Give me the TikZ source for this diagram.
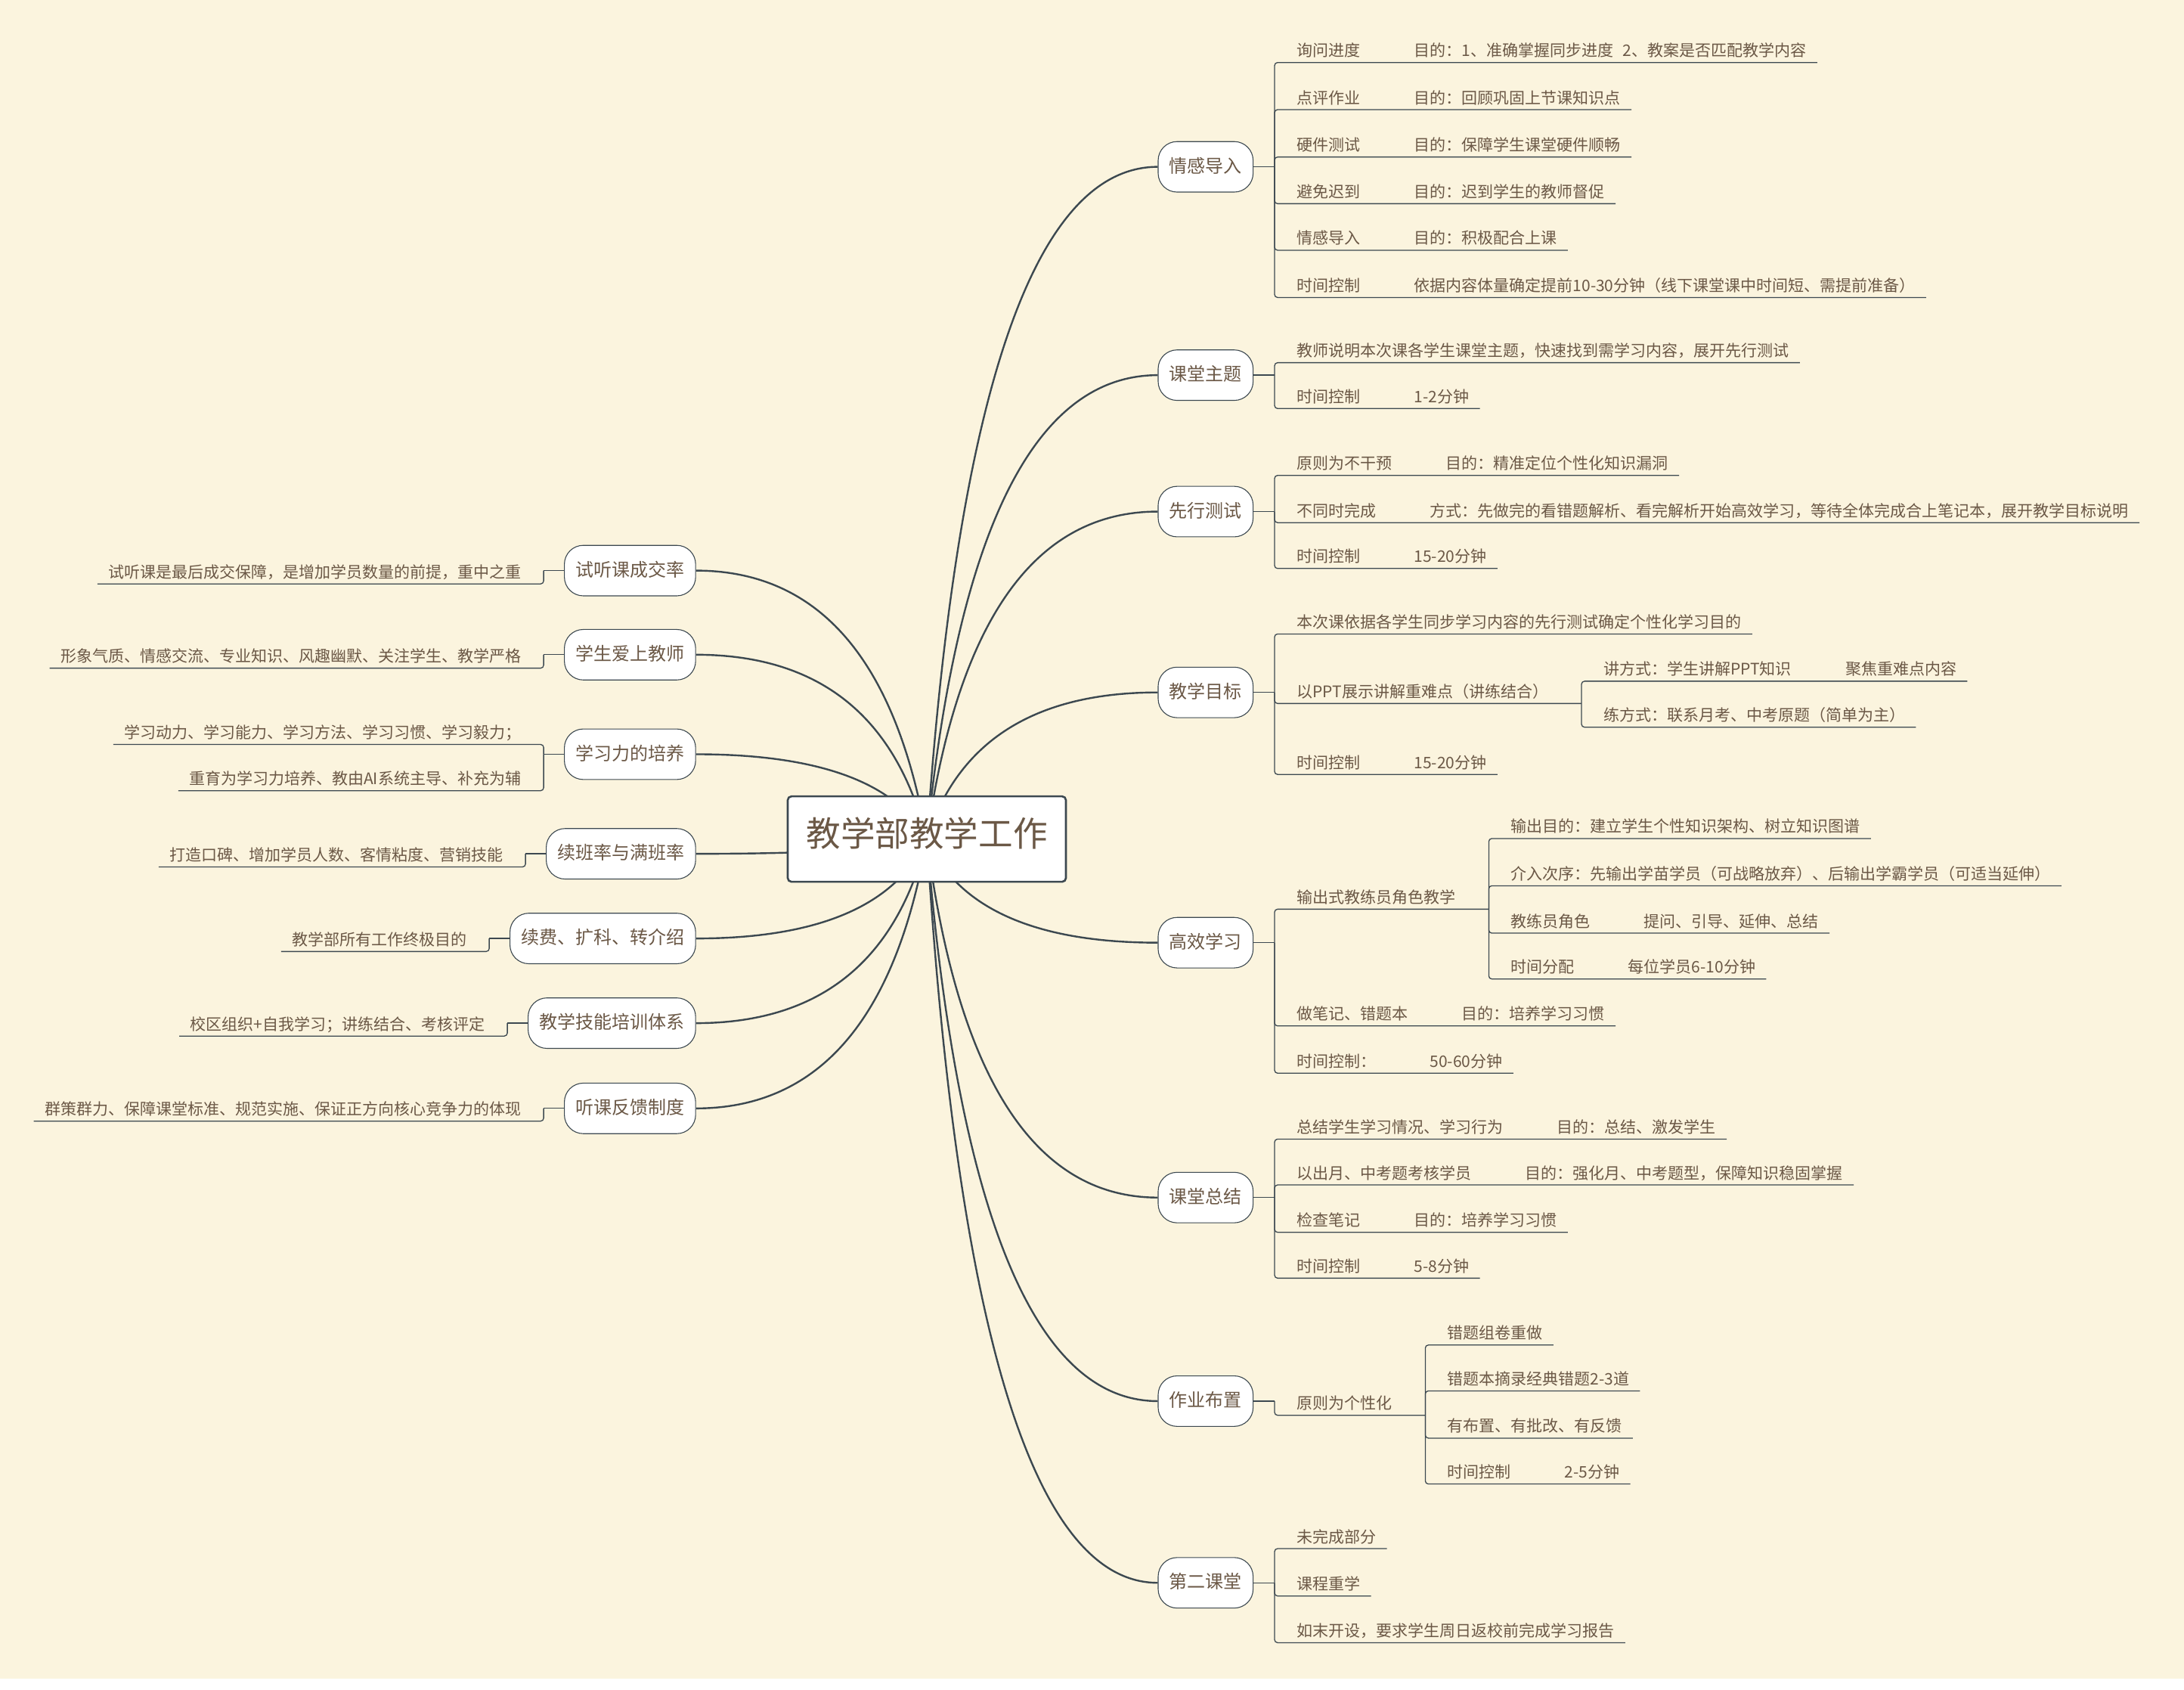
\documentclass[tikz,border=0pt]{standalone}
\usepackage{fontspec}
\setmainfont{Noto Sans CJK SC}
\usetikzlibrary{calc}
\definecolor{bgc}{RGB}{251,244,222}
\definecolor{linec}{RGB}{60,72,80}
\definecolor{textc}{RGB}{107,88,70}
\pgfdeclarelayer{canvas}
\pgfdeclarelayer{background}
\pgfsetlayers{canvas,background,main}
\tikzset{
 rootbox/.style={draw=linec, line width=1.3pt, fill=white, rounded corners=2.5pt, minimum width=184pt, minimum height=56.5pt, font=\fontsize{22.8}{27}\selectfont, text=textc, text height=0.96em, text depth=0pt, inner sep=0pt},
 topic/.style={draw=linec, line width=0.55pt, fill=white, rounded corners=12.5pt, minimum height=33.4pt, inner xsep=7.4pt, inner ysep=0pt, font=\fontsize{12}{14}\selectfont, text=textc, text height=0.8em, text depth=0.04em},
 leaf/.style={inner sep=0pt, font=\fontsize{10.5}{12.6}\selectfont, text=textc, anchor=base west},
 leafr/.style={leaf, anchor=base east},
 mainconn/.style={draw=linec, line width=1.2pt},
 subconn/.style={draw=linec, line width=0.65pt, rounded corners=2pt},
}
% right rows
\newcommand\RA[4]{\node[leaf] (#1) at ($(#2)+(0,#3-4.3)$) {#4};
  \coordinate (#1e) at ($(#1.base east)+(7.5,4.3)$);}
\newcommand\RB[5]{\node[leaf] (#1) at ($(#2)+(0,#3-4.3)$) {#4};
  \node[leaf] (#1b) at ($(#1.base east)+(38,0)$) {#5};
  \coordinate (#1e) at ($(#1b.base east)+(7.5,4.3)$);}
\newcommand\RP[4]{\node[leaf] (#1) at ($(#2)+(0,#3-4.3)$) {#4};
  \coordinate (#1e) at ($(#1.base east)+(23.5,4.3)$);}
% left rows
\newcommand\LA[4]{\node[leafr] (#1) at ($(#2)+(0,#3-4.3)$) {#4};
  \coordinate (#1e) at ($(#1.base west)+(-7.5,4.3)$);}
% junctions
\newcommand\Jr[1]{\coordinate (#1j) at ($(#1.east)+(15,0)$);\draw[subconn] (#1.east) -- (#1j);}
\newcommand\Jl[1]{\coordinate (#1j) at ($(#1.west)+(-14.5,0)$);\draw[subconn] (#1.west) -- (#1j);}
\newcommand\Lk[2]{\draw[subconn] (#1) |- (#2e);}
\newcommand\Curve[1]{%
  \coordinate (cP) at ($(root.center)!0.2!(#1)$);
  \coordinate (cQ) at (cP |- #1);
  \draw[mainconn] (root.center) .. controls ($(root.center)!0.6667!(cQ)$) and ($(#1)!0.6667!(cQ)$) .. (#1);}
\begin{document}
\begin{tikzpicture}[x=0.927pt,y=-0.927pt]
\begin{pgfonlayer}{canvas}
\fill[white] (0,0) rectangle (1558.2,1205);
\fill[bgc] (0,0) rectangle (1558.2,1197.4);
\end{pgfonlayer}
\useasboundingbox (0,0) rectangle (1558.2,1205);
\coordinate (origin) at (0,0);
\coordinate (XR) at (925,0);

% root
\node[rootbox] (root) at (661.25,598.5) {教学部教学工作\hspace{6pt}};

% right topics
\node[topic, anchor=west] (qg) at (826,119) {情感导入};
\node[topic, anchor=west] (kt) at (826,267.6) {课堂主题};
\node[topic, anchor=west] (xx) at (826,364.9) {先行测试};
\node[topic, anchor=west] (jx) at (826,493.9) {教学目标};
\node[topic, anchor=west] (gx) at (826,672.4) {高效学习};
\node[topic, anchor=west] (kz) at (826,854.2) {课堂总结};
\node[topic, anchor=west] (zy) at (826,999.4) {作业布置};
\node[topic, anchor=west] (de) at (826,1129) {第二课堂};

% left topics
\node[topic, anchor=east] (st) at (496.6,407) {试听课成交率};
\node[topic, anchor=east] (sa) at (496.6,467) {学生爱上教师};
\node[topic, anchor=east] (sx) at (496.6,538) {学习力的培养};
\node[topic, anchor=east] (xb) at (496.6,609) {续班率与满班率};
\node[topic, anchor=east] (xf) at (496.6,669.4) {续费、扩科、转介绍};
\node[topic, anchor=east] (jn) at (496.6,729.8) {教学技能培训体系};
\node[topic, anchor=east] (tk) at (496.6,790.6) {听课反馈制度};

% 情感导入
\RB{qg1}{XR}{44.6}{询问进度}{目的：1、准确掌握同步进度\hspace{0.6em}2、教案是否匹配教学内容}
\RB{qg2}{XR}{78.2}{点评作业}{目的：回顾巩固上节课知识点}
\RB{qg3}{XR}{112}{硬件测试}{目的：保障学生课堂硬件顺畅}
\RB{qg4}{XR}{145.3}{避免迟到}{目的：迟到学生的教师督促}
\RB{qg5}{XR}{178.5}{情感导入}{目的：积极配合上课}
\RB{qg6}{XR}{212.2}{时间控制}{依据内容体量确定提前10-30分钟（线下课堂课中时间短、需提前准备）}
% 课堂主题
\RA{kt1}{XR}{258.7}{教师说明本次课各学生课堂主题，快速找到需学习内容，展开先行测试}
\RB{kt2}{XR}{291.4}{时间控制}{1-2分钟}
% 先行测试
\RB{xx1}{XR}{339.1}{原则为不干预}{目的：精准定位个性化知识漏洞}
\RB{xx2}{XR}{372.8}{不同时完成}{方式：先做完的看错题解析、看完解析开始高效学习，等待全体完成合上笔记本，展开教学目标说明}
\RB{xx3}{XR}{405.5}{时间控制}{15-20分钟}
% 教学目标
\RA{jx1}{XR}{452.2}{本次课依据各学生同步学习内容的先行测试确定个性化学习目的}
\RP{jx2}{XR}{501.8}{以PPT展示讲解重难点（讲练结合）}
\coordinate (Xjx) at ($(jx2e |- origin)+(15.5,0)$);
\RB{jx2a}{Xjx}{485.9}{讲方式：学生讲解PPT知识}{聚焦重难点内容}
\RA{jx2c}{Xjx}{518.7}{练方式：联系月考、中考原题（简单为主）}
\RB{jx3}{XR}{552.4}{时间控制}{15-20分钟}
% 高效学习
\RP{gx1}{XR}{648.5}{输出式教练员角色教学}
\coordinate (Xgx) at ($(gx1e |- origin)+(15.5,0)$);
\RA{gx1a}{Xgx}{598.1}{输出目的：建立学生个性知识架构、树立知识图谱}
\RA{gx1c}{Xgx}{631.8}{介入次序：先输出学苗学员（可战略放弃）、后输出学霸学员（可适当延伸）}
\RB{gx1d}{Xgx}{665.6}{教练员角色}{提问、引导、延伸、总结}
\RB{gx1f}{Xgx}{698.3}{时间分配}{每位学员6-10分钟}
\RB{gx2}{XR}{731.8}{做笔记、错题本}{目的：培养学习习惯}
\RB{gx3}{XR}{765.5}{时间控制：}{50-60分钟}
% 课堂总结
\RB{kz1}{XR}{812.5}{总结学生学习情况、学习行为}{目的：总结、激发学生}
\RB{kz2}{XR}{845.2}{以出月、中考题考核学员}{目的：强化月、中考题型，保障知识稳固掌握}
\RB{kz3}{XR}{879}{检查笔记}{目的：培养学习习惯}
\RB{kz4}{XR}{911.7}{时间控制}{5-8分钟}
% 作业布置
\RP{zy1}{XR}{1009.5}{原则为个性化}
\coordinate (Xzy) at ($(zy1e |- origin)+(15.5,0)$);
\RA{zy1a}{Xzy}{959.4}{错题组卷重做}
\RA{zy1c}{Xzy}{992.1}{错题本摘录经典错题2-3道}
\RA{zy1d}{Xzy}{1025.8}{有布置、有批改、有反馈}
\RB{zy1f}{Xzy}{1058.5}{时间控制}{2-5分钟}
% 第二课堂
\RA{de1}{XR}{1104.6}{未完成部分}
\RA{de2}{XR}{1138.4}{课程重学}
\RA{de3}{XR}{1171.7}{如末开设，要求学生周日返校前完成学习报告}

% left rows
\coordinate (Xst) at ($(st.west |- origin)+(-30.5,0)$);
\LA{st1}{Xst}{416.5}{试听课是最后成交保障，是增加学员数量的前提，重中之重}
\coordinate (Xsa) at ($(sa.west |- origin)+(-30.5,0)$);
\LA{sa1}{Xsa}{476.6}{形象气质、情感交流、专业知识、风趣幽默、关注学生、教学严格}
\coordinate (Xsx) at ($(sx.west |- origin)+(-30.5,0)$);
\LA{sx1}{Xsx}{531}{学习动力、学习能力、学习方法、学习习惯、学习毅力；}
\LA{sx2}{Xsx}{564}{重育为学习力培养、教由AI系统主导、补充为辅}
\coordinate (Xxb) at ($(xb.west |- origin)+(-30.5,0)$);
\LA{xb1}{Xxb}{618.4}{打造口碑、增加学员人数、客情粘度、营销技能}
\coordinate (Xxf) at ($(xf.west |- origin)+(-30.5,0)$);
\LA{xf1}{Xxf}{678.7}{教学部所有工作终极目的}
\coordinate (Xjn) at ($(jn.west |- origin)+(-30.5,0)$);
\LA{jn1}{Xjn}{739}{校区组织+自我学习；讲练结合、考核评定}
\coordinate (Xtk) at ($(tk.west |- origin)+(-30.5,0)$);
\LA{tk1}{Xtk}{799.7}{群策群力、保障课堂标准、规范实施、保证正方向核心竞争力的体现}

\begin{pgfonlayer}{background}
% main curves
\Curve{qg.west}\Curve{kt.west}\Curve{xx.west}\Curve{jx.west}
\Curve{gx.west}\Curve{kz.west}\Curve{zy.west}\Curve{de.west}
\Curve{st.east}\Curve{sa.east}\Curve{sx.east}\Curve{xb.east}
\Curve{xf.east}\Curve{jn.east}\Curve{tk.east}
% right brackets
\Jr{qg}\Lk{qgj}{qg1}\Lk{qgj}{qg2}\Lk{qgj}{qg3}\Lk{qgj}{qg4}\Lk{qgj}{qg5}\Lk{qgj}{qg6}
\Jr{kt}\Lk{ktj}{kt1}\Lk{ktj}{kt2}
\Jr{xx}\Lk{xxj}{xx1}\Lk{xxj}{xx2}\Lk{xxj}{xx3}
\Jr{jx}\Lk{jxj}{jx1}\Lk{jxj}{jx2}\Lk{jxj}{jx3}
\Lk{jx2e}{jx2a}\Lk{jx2e}{jx2c}
\Jr{gx}\Lk{gxj}{gx1}\Lk{gxj}{gx2}\Lk{gxj}{gx3}
\Lk{gx1e}{gx1a}\Lk{gx1e}{gx1c}\Lk{gx1e}{gx1d}\Lk{gx1e}{gx1f}
\Jr{kz}\Lk{kzj}{kz1}\Lk{kzj}{kz2}\Lk{kzj}{kz3}\Lk{kzj}{kz4}
\Jr{zy}\Lk{zyj}{zy1}
\Lk{zy1e}{zy1a}\Lk{zy1e}{zy1c}\Lk{zy1e}{zy1d}\Lk{zy1e}{zy1f}
\Jr{de}\Lk{dej}{de1}\Lk{dej}{de2}\Lk{dej}{de3}
% left brackets
\Jl{st}\Lk{stj}{st1}
\Jl{sa}\Lk{saj}{sa1}
\Jl{sx}\Lk{sxj}{sx1}\Lk{sxj}{sx2}
\Jl{xb}\Lk{xbj}{xb1}
\Jl{xf}\Lk{xfj}{xf1}
\Jl{jn}\Lk{jnj}{jn1}
\Jl{tk}\Lk{tkj}{tk1}
\end{pgfonlayer}
\end{tikzpicture}
\end{document}
